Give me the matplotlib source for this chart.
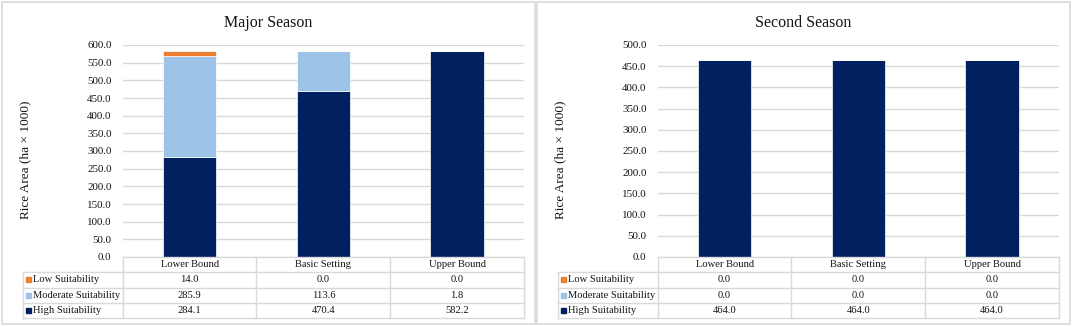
import matplotlib
matplotlib.use("Agg")
from matplotlib import pyplot as plt
from matplotlib.patches import Rectangle

categories = ["Lower Bound", "Basic Setting", "Upper Bound"]
series = ["Low Suitability", "Moderate Suitability", "High Suitability"]
colors = ["#ED7D31", "#9DC3E6", "#002060"]

major_low = [14.0, 0.0, 0.0]
major_mod = [285.9, 113.6, 1.8]
major_high = [284.1, 470.4, 582.2]

second_low = [0.0, 0.0, 0.0]
second_mod = [0.0, 0.0, 0.0]
second_high = [464.0, 464.0, 464.0]

W, H = 1074, 326
plt.rcParams["font.family"] = ["Liberation Serif", "DejaVu Serif"]
txt = "#141414"
grid_c = "#D9D9D9"

fig = plt.figure(figsize=(W / 100, H / 100), dpi=100)


def fx(px):
    return px / W


def fy(py):
    return 1 - py / H


def panel(off, title, low, mod, high, ymax):
    # cadre du panneau
    fig.patches.append(Rectangle((fx(off + 2), fy(324)), fx(533), 322 / H,
                                 transform=fig.transFigure, fill=False,
                                 edgecolor=grid_c, lw=1.2))
    left, right, top, bot = off + 122.7, off + 524, 45, 257
    ax = fig.add_axes([fx(left), fy(bot), fx(right - left), (bot - top) / H])
    x = range(len(categories))
    ax.bar(x, high, 0.4, color=colors[2], edgecolor="white", lw=0.5, zorder=3)
    ax.bar(x, mod, 0.4, bottom=high, color=colors[1], edgecolor="white", lw=0.5, zorder=3)
    base = [h + m for h, m in zip(high, mod)]
    ax.bar(x, low, 0.4, bottom=base, color=colors[0], edgecolor="white", lw=0.5, zorder=3)
    ax.set_xlim(-0.5, len(categories) - 0.5)
    ax.set_ylim(0, ymax)
    ax.set_yticks(range(0, ymax + 1, 50))
    ax.set_yticklabels(["%.1f" % v for v in range(0, ymax + 1, 50)], fontsize=7.9, color=txt)
    ax.tick_params(axis="y", length=0, pad=8)
    ax.set_xticks([])
    ax.grid(axis="y", color=grid_c, lw=1, zorder=0)
    for s in ax.spines.values():
        s.set_visible(False)

    fig.text(fx(off + 268), fy(23), title, ha="center", va="center", fontsize=11.5, color=txt)
    fig.text(fx(off + 25), fy(160), "Rice Area (ha \u00d7 1000)", rotation=90,
             ha="center", va="center", fontsize=9.5, color=txt)

    # tableau de données sous le graphique
    rows = [257, 272.3, 287.6, 302.9, 318.2]
    tl = left - 100
    line_kw = dict(transform=fig.transFigure, color=grid_c, lw=1)
    fig.add_artist(plt.Line2D([fx(left), fx(right)], [fy(rows[0])] * 2, **line_kw))
    for r in rows[1:]:
        fig.add_artist(plt.Line2D([fx(tl), fx(right)], [fy(r)] * 2, **line_kw))
    fig.add_artist(plt.Line2D([fx(tl), fx(tl)], [fy(rows[1]), fy(rows[-1])], **line_kw))
    ncat = len(categories)
    for i in range(ncat + 1):
        xp = left + (right - left) * i / ncat
        fig.add_artist(plt.Line2D([fx(xp), fx(xp)], [fy(rows[0]), fy(rows[-1])], **line_kw))
    for i, c in enumerate(categories):
        xp = left + (right - left) * (i + 0.5) / ncat
        fig.text(fx(xp), fy((rows[0] + rows[1]) / 2), c, ha="center", va="center",
                 fontsize=7.6, color=txt)
    for j, (name, vals) in enumerate(zip(series, [low, mod, high])):
        yc = (rows[j + 1] + rows[j + 2]) / 2
        fig.patches.append(Rectangle((fx(tl + 3.5), fy(yc + 2.5)), fx(5), 5 / H,
                                     transform=fig.transFigure, color=colors[j]))
        fig.text(fx(tl + 10), fy(yc), name, ha="left", va="center", fontsize=7.6, color=txt)
        for i, v in enumerate(vals):
            xp = left + (right - left) * (i + 0.5) / ncat
            fig.text(fx(xp), fy(yc), "%.1f" % v, ha="center", va="center",
                     fontsize=7.6, color=txt)
    return ax


panel(0, "Major Season", major_low, major_mod, major_high, 600)
panel(535, "Second Season", second_low, second_mod, second_high, 500)

fig.savefig("out.png", dpi=100)
